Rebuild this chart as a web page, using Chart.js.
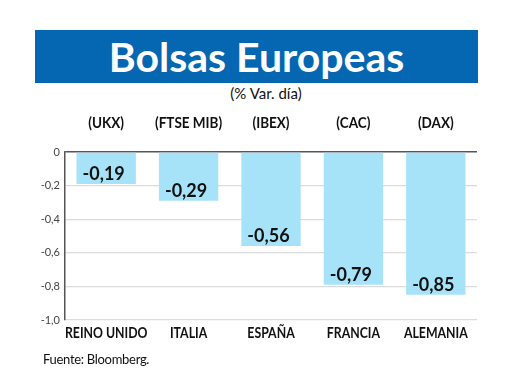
<!DOCTYPE html>
<html>
<head>
<meta charset="utf-8">
<script src="https://cdn.jsdelivr.net/npm/chart.js@4"></script>
<style>
    body { margin: 0; background: #fff; }
    #wrap { position: relative; width: 520px; height: 390px; overflow: hidden; font-family: Lato, "Open Sans", sans-serif; }
    #titulo {
        position: absolute; left: 35px; top: 30px; width: 443px; height: 53px;
        background: #0566b1; color: #fff; text-align: center;
        font-weight: bold; font-size: 41px; line-height: 53px;
    }
    #subtitulo { position: absolute; left: 6px; width: 520px; top: 84px; text-align: center; font-size: 15px; color: #111; }
    #fuente { position: absolute; left: 43px; top: 351px; font-size: 13px; color: #111; letter-spacing: -0.3px; }
    canvas { position: absolute; left: 0; top: 0; }
</style>
</head>
<body>
<div id="wrap">
    <div id="titulo">Bolsas Europeas</div>
    <div id="subtitulo">(% Var. día)</div>
    <canvas id="grafico" width="520" height="390"></canvas>
    <div id="fuente">Fuente: Bloomberg.</div>
</div>
<script>
const paises = ["REINO UNIDO", "ITALIA", "ESPAÑA", "FRANCIA", "ALEMANIA"];
const indices = ["(UKX)", "(FTSE MIB)", "(IBEX)", "(CAC)", "(DAX)"];
const variacion = [-0.19, -0.29, -0.56, -0.79, -0.85];

function formatoComa(valor, dec) {
    return valor.toFixed(dec).replace(".", ",");
}

// texto estrecho (las fuentes condensadas no estan disponibles)
function textoEstrecho(ctx, txt, x, y, escala) {
    ctx.save();
    ctx.translate(x, y);
    ctx.scale(escala, 1);
    ctx.fillText(txt, 0, 0);
    ctx.restore();
}

const etiquetas = {
    id: "etiquetas",
    afterDatasetsDraw(chart) {
        const ctx = chart.ctx;
        const meta = chart.getDatasetMeta(0);
        const x = chart.scales.x;
        ctx.save();
        ctx.fillStyle = "#111";
        ctx.textAlign = "center";
        ctx.textBaseline = "middle";
        // indices arriba
        ctx.font = "bold 15px Lato, sans-serif";
        indices.forEach((txt, i) => {
            textoEstrecho(ctx, txt, x.getPixelForValue(i), 123, 0.9);
        });
        // paises abajo
        ctx.font = "bold 15px Lato, sans-serif";
        paises.forEach((txt, i) => {
            textoEstrecho(ctx, txt, x.getPixelForValue(i), 333, 0.82);
        });
        // valores dentro de las barras
        ctx.font = "bold 18px Lato, sans-serif";
        ctx.textAlign = "left";
        ctx.textBaseline = "alphabetic";
        meta.data.forEach((barra, i) => {
            const izq = barra.x - barra.width / 2 + 6;
            ctx.fillText(formatoComa(variacion[i], 2), izq, barra.y - 4);
        });
        ctx.restore();
    }
};

new Chart(document.getElementById("grafico"), {
    type: "bar",
    data: {
        labels: paises,
        datasets: [{
            data: variacion,
            backgroundColor: "#a6e3f9",
            borderWidth: 0,
            barPercentage: 0.72,
            categoryPercentage: 1
        }]
    },
    options: {
        responsive: false,
        animation: false,
        layout: { padding: { top: 152, left: 0, right: 43, bottom: 0 } },
        plugins: {
            legend: { display: false },
            tooltip: { enabled: false }
        },
        scales: {
            x: {
                grid: { display: false },
                border: { display: false },
                ticks: { display: false },
                afterFit: function (scale) { scale.height = 70; }
            },
            y: {
                min: -1,
                max: 0,
                ticks: {
                    stepSize: 0.2,
                    color: "#444",
                    padding: 5,
                    font: { family: "Lato, sans-serif", size: 11 },
                    callback: function (valor) {
                        if (valor === 0) return "0";
                        return formatoComa(valor, 1);
                    }
                },
                grid: {
                    drawTicks: false,
                    color: function (c) { return c.tick && c.tick.value === 0 ? "#555" : "#dcdcdc"; },
                    lineWidth: function (c) { return c.tick && c.tick.value === 0 ? 1.5 : 1.2; }
                },
                border: { color: "#555", width: 1.5 },
                afterFit: function (scale) { scale.width = 65; }
            }
        }
    },
    plugins: [etiquetas]
});
</script>
</body>
</html>
